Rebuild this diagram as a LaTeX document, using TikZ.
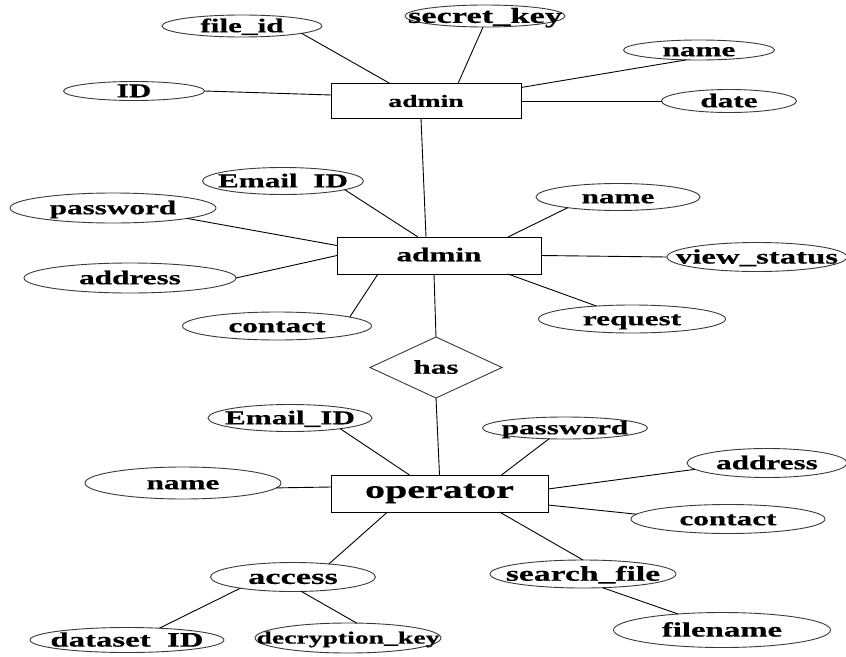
\documentclass[tikz,border=0pt]{standalone}
\usepackage{fontspec}
\setmainfont{Liberation Serif}[FakeStretch=1.6, FakeBold=0.5]
\usetikzlibrary{shapes.geometric}
\newcommand\fsz[1]{\fontsize{#1}{#1}\selectfont}
% zero-size label, so the shape size comes only from its minimum dimensions
\newcommand\lbl[1]{\makebox[0pt]{\raisebox{-0.32em}[0pt][0pt]{#1}}}
\definecolor{rim}{HTML}{3A3A3A}
\tikzset{
  attr/.style={ellipse, draw=rim, line width=0.9pt, inner sep=0pt, outer sep=0pt,
               font=\bfseries\fsz{19.5}},
  esize/.style 2 args={minimum width=#1pt, minimum height=#2pt},
  entity/.style={rectangle, draw=black, line width=1pt, inner sep=0pt, outer sep=0pt,
                 font=\bfseries\fsz{19.5}},
  relation/.style={diamond, draw=rim, line width=0.9pt, inner sep=0pt, outer sep=0pt,
                   aspect=2.16, minimum width=132pt, minimum height=61pt,
                   font=\bfseries\fsz{19.5}},
  link/.style={draw=black, line width=0.9pt}
}
\begin{document}
\begin{tikzpicture}[x=1pt, y=-1pt]
\useasboundingbox (0,0) rectangle (846,656);
\fill[white] (0,0) rectangle (846,656);

% ---- upper admin entity and its attributes
\node[entity, minimum width=190pt, minimum height=35pt, font=\bfseries\fsz{17.3}] (admA) at (426,101) {admin};
\node[attr, esize={160}{22}] (fileid) at (242,26) {\lbl{file\_id}};
\node[attr, esize={160}{22}, font=\bfseries\fsz{21.5}] (secret) at (485,16) {\lbl{secret\_key}};
\node[attr, esize={151}{20}] (nameA) at (699,50) {\lbl{name}};
\node[attr, esize={141}{19}] (idA) at (134,91) {\lbl{ID}};
\node[attr, esize={135}{23}] (dateA) at (729,101) {\lbl{date}};

% ---- middle admin entity and its attributes
\node[entity, minimum width=204pt, minimum height=37pt] (admB) at (439,255.5) {\raisebox{2pt}{admin}};
\node[attr, esize={161}{27}] (emailB) at (283,181) {\lbl{Email\ \ ID}};
\node[attr, esize={206}{30}] (pwdB) at (113,208) {\lbl{password}};
\node[attr, esize={212}{30}] (addrB) at (130,278) {\lbl{address}};
\node[attr, esize={189}{28}] (contB) at (277,326) {\lbl{contact}};
\node[attr, esize={164}{27}] (nameB) at (618,197) {\lbl{name}};
\node[attr, esize={180}{29}, font=\bfseries\fsz{20.5}] (viewB) at (757,257) {\lbl{view\_status}};
\node[attr, esize={187}{28}] (reqB) at (632,319) {\lbl{request}};

% ---- relationship
\node[relation] (has) at (436,367.5) {\lbl{has}};

% ---- operator entity and its attributes
\node[entity, minimum width=217pt, minimum height=37pt, font=\bfseries\fsz{25}] (op) at (439.5,493.5) {operator};
\node[attr, esize={164}{27}] (emailC) at (290,418) {\lbl{Email\_ID}};
\node[attr, esize={165}{22}] (pwdC) at (565,428) {\lbl{password}};
\node[attr, esize={160}{29}] (addrC) at (767,463) {\lbl{address}};
\node[attr, esize={196}{32}] (nameC) at (183,483) {\lbl{name}};
\node[attr, esize={194}{29}] (contC) at (728,519) {\lbl{contact}};
\node[attr, esize={165}{29}, font=\bfseries\fsz{21.5}] (access) at (293,577) {\lbl{access}};
\node[attr, esize={186}{28}, font=\bfseries\fsz{21}] (search) at (583,574) {\lbl{search\_file}};
\node[attr, esize={194}{25}, font=\bfseries\fsz{20.5}] (dataset) at (127,640) {\lbl{dataset\ \ ID}};
\node[attr, esize={186}{30}, font=\bfseries\fsz{17.3}] (decrypt) at (348,638) {\lbl{decryption\_key}};
\node[attr, esize={217}{35}, font=\bfseries\fsz{20.5}] (filename) at (722,630) {\lbl{filename}};

% ---- connectors, upper admin
\draw[link] (fileid.-7) -- ([xshift=-36pt]admA.north);
\draw[link] (secret.-100) -- ([xshift=32pt]admA.north);
\draw[link] (nameA.218) -- ([yshift=-4pt]admA.north east);
\draw[link] (idA.east) -- ([yshift=6pt]admA.west);
\draw[link] (admA.east) -- (dateA.west);
\draw[link] ([xshift=-5pt]admA.south) -- ([xshift=-13pt]admB.north);

% ---- connectors, middle admin
\draw[link] (emailB.-8) -- ([xshift=-21pt]admB.north);
\draw[link] (pwdB.-8) -- ([yshift=10pt]admB.west);
\draw[link] (addrB.east) -- (admB.west);
\draw[link] (contB.7) -- ([xshift=-61pt]admB.south);
\draw[link] (nameB.192) -- ([xshift=69pt]admB.north);
\draw[link] (admB.east) -- (viewB.west);
\draw[link] (reqB.160) -- ([xshift=69pt]admB.south);
\draw[link] ([xshift=-5pt]admB.south) -- (has.north);

% ---- connectors, operator
\draw[link] (has.south) -- (op.north);
\draw[link] (emailC.-12) -- ([xshift=-30pt]op.north);
\draw[link] (pwdC.214) -- ([xshift=62pt]op.north);
\draw[link] (addrC.185) -- ([yshift=4.5pt]op.east);
\draw[link] (nameC.-3) -- ([yshift=6.5pt]op.west);
\draw[link] (contC.177) -- ([yshift=-11.5pt]op.east);
\draw[link] (access.20) -- ([xshift=-52pt]op.south);
\draw[link] (search.90) -- ([xshift=60pt]op.south);
\draw[link] (access.192) -- (dataset.20);
\draw[link] (access.-60) -- (decrypt.60);
\draw[link] (search.-35) -- (filename.160);
\end{tikzpicture}
\end{document}
